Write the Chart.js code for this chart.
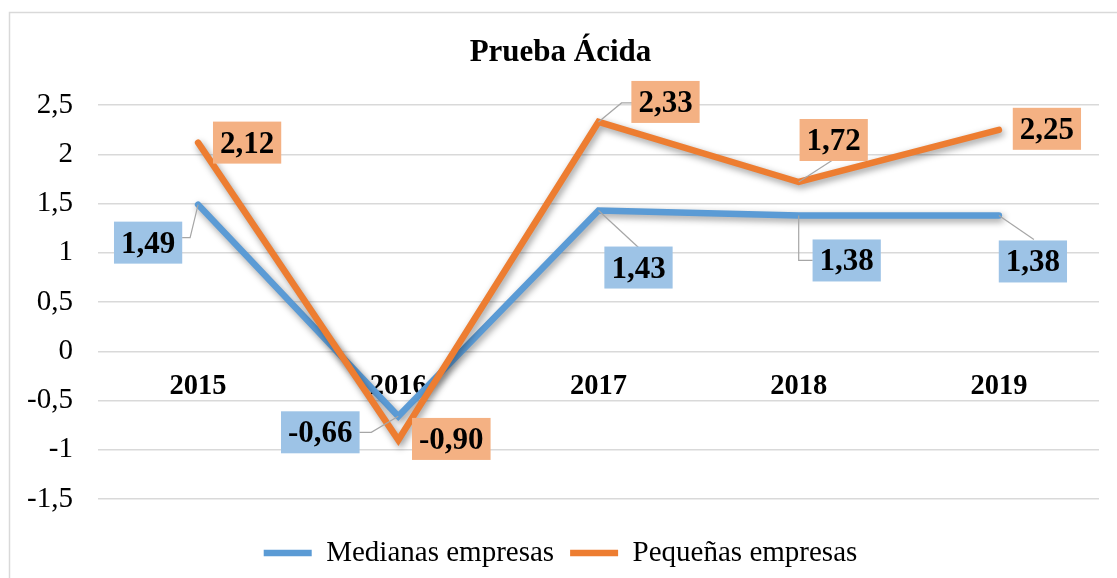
<!DOCTYPE html>
<html>
<head>
<meta charset="utf-8">
<script src="https://cdn.jsdelivr.net/npm/chart.js@4.4.0/dist/chart.umd.min.js"></script>
<style>
  html, body { margin: 0; padding: 0; background: #fff; }
  #wrap { width: 1117px; height: 578px; }
</style>
</head>
<body>
<div id="wrap"><canvas id="lineChart"></canvas></div>
<script>
// data
var years = ['2015', '2016', '2017', '2018', '2019'];
var medianas = [1.49, -0.66, 1.43, 1.38, 1.38];
var pequenas = [2.12, -0.90, 2.33, 1.72, 2.25];
var yTicks = [-1.5, -1, -0.5, 0, 0.5, 1, 1.5, 2, 2.5];

var serif = '"Liberation Serif", "Times New Roman", serif';

function comma(v, dec) {
    var s = dec ? v.toFixed(dec) : String(v);
    return s.replace('.', ',');
}

// white page + light frame round the chart
var framePlugin = {
    id: 'frame',
    beforeDraw: function(chart) {
        var c = chart.ctx;
        c.save();
        c.fillStyle = '#fff';
        c.fillRect(0, 0, chart.width, chart.height);
        c.strokeStyle = '#d9d9d9';
        c.lineWidth = 1.5;
        c.strokeRect(9.5, 12.5, chart.width, chart.height);
        c.restore();
    }
};

// soft shadow under the lines
var shadowPlugin = {
    id: 'lineShadow',
    beforeDatasetDraw: function(chart) {
        var c = chart.ctx;
        c.save();
        c.shadowColor = 'rgba(0,0,0,0.4)';
        c.shadowBlur = 7;
        c.shadowOffsetX = 2;
        c.shadowOffsetY = 3;
    },
    afterDatasetDraw: function(chart) {
        chart.ctx.restore();
    }
};

// value boxes with leader lines
var labelPlugin = {
    id: 'valueLabels',
    afterDatasetsDraw: function(chart, args, opts) {
        var ctx = chart.ctx;
        ctx.save();
        ctx.font = 'bold 31px ' + serif;
        ctx.textAlign = 'center';
        ctx.textBaseline = 'middle';
        chart.data.datasets.forEach(function(ds, di) {
            var meta = chart.getDatasetMeta(di);
            var place = opts.places[di];
            meta.data.forEach(function(pt, i) {
                var text = comma(ds.data[i], 2);
                var cx = pt.x + place[i].dx, cy = pt.y + place[i].dy;
                var w = ctx.measureText(text).width + 14, h = 42;
                if (place[i].lead) {
                    ctx.beginPath();
                    ctx.moveTo(pt.x, pt.y);
                    place[i].lead.forEach(function(p) {
                        ctx.lineTo(pt.x + p[0], pt.y + p[1]);
                    });
                    ctx.strokeStyle = '#a6a6a6';
                    ctx.lineWidth = 1.2;
                    ctx.stroke();
                }
                ctx.fillStyle = opts.fills[di];
                ctx.fillRect(cx - w / 2, cy - h / 2, w, h);
                ctx.fillStyle = '#000';
                ctx.fillText(text, cx, cy + 2);
            });
        });
        ctx.restore();
    }
};

var ctx = document.getElementById('lineChart').getContext('2d');
var chart = new Chart(ctx, {
    type: 'line',
    data: {
        labels: years,
        datasets: [
        {
            label           : 'Medianas empresas',
            data            : medianas,
            borderColor     : '#5b9bd5',
            backgroundColor : '#5b9bd5',
            borderWidth     : 6.5,
            borderCapStyle  : 'round',
            borderJoinStyle : 'miter',
            pointRadius     : 0,
            tension         : 0,
            order           : 1
        },
        {
            label           : 'Pequeñas empresas',
            data            : pequenas,
            borderColor     : '#ed7d31',
            backgroundColor : '#ed7d31',
            borderWidth     : 6.5,
            borderCapStyle  : 'round',
            borderJoinStyle : 'miter',
            pointRadius     : 0,
            tension         : 0,
            order           : 0
        }
        ]
    },
    options: {
        responsive: true,
        maintainAspectRatio: false,
        animation: false,
        layout: { padding: { left: 22, right: 18, top: 34, bottom: 0.5 } },
        plugins: {
            title: {
                display: true,
                text: 'Prueba Ácida',
                color: '#000',
                font: { family: serif, size: 31, weight: 'bold', lineHeight: 1.2 },
                padding: { top: 0, bottom: 34 }
            },
            legend: {
                position: 'bottom',
                labels: {
                    usePointStyle: true,
                    pointStyle: 'line',
                    pointStyleWidth: 48,
                    padding: 16,
                    color: '#000',
                    font: { family: serif, size: 29 },
                    sort: function(a, b) { return a.datasetIndex - b.datasetIndex; }
                },
                // empty title only used as a spacer above the legend
                title: {
                    display: true,
                    text: '',
                    font: { size: 10, lineHeight: 1.2 },
                    padding: { top: 0, bottom: 11.5 }
                }
            },
            tooltip: { enabled: false },
            valueLabels: {
                fills: ['#9dc3e6', '#f4b183'],
                places: [
                    [
                        { dx: -50, dy: 38, lead: [[-8, 33], [-16, 33]] },
                        { dx: -78, dy: 16, lead: [[-27, 16], [-39, 16]] },
                        { dx: 40, dy: 57, lead: [[40, 37]] },
                        { dx: 48, dy: 45, lead: [[0, 45], [14, 45]] },
                        { dx: 34, dy: 46, lead: [[35, 24]] }
                    ],
                    [
                        { dx: 49, dy: 0 },
                        { dx: 53, dy: -1 },
                        { dx: 67, dy: -20, lead: [[23, -19], [34, -19]] },
                        { dx: 35, dy: -42, lead: [[34, -22]] },
                        { dx: 48, dy: -1 }
                    ]
                ]
            }
        },
        scales: {
            x: {
                position: { y: 0 },
                offset: true,
                grid: { display: false, drawTicks: false },
                border: { display: false },
                ticks: {
                    color: '#000',
                    font: { family: serif, size: 28.5, weight: 'bold' },
                    padding: 18,
                    maxRotation: 0
                }
            },
            y: {
                min: -1.5,
                max: 2.5,
                afterBuildTicks: function(axis) {
                    axis.ticks = yTicks.map(function(v) { return { value: v }; });
                },
                afterFit: function(axis) { axis.width = 76; },
                grid: { color: '#d9d9d9', lineWidth: 1.5, drawTicks: false },
                border: { display: false },
                ticks: {
                    color: '#000',
                    font: { family: serif, size: 29 },
                    padding: 25,
                    callback: function(v) { return comma(v); }
                }
            }
        }
    },
    plugins: [framePlugin, shadowPlugin, labelPlugin]
});
</script>
</body>
</html>
